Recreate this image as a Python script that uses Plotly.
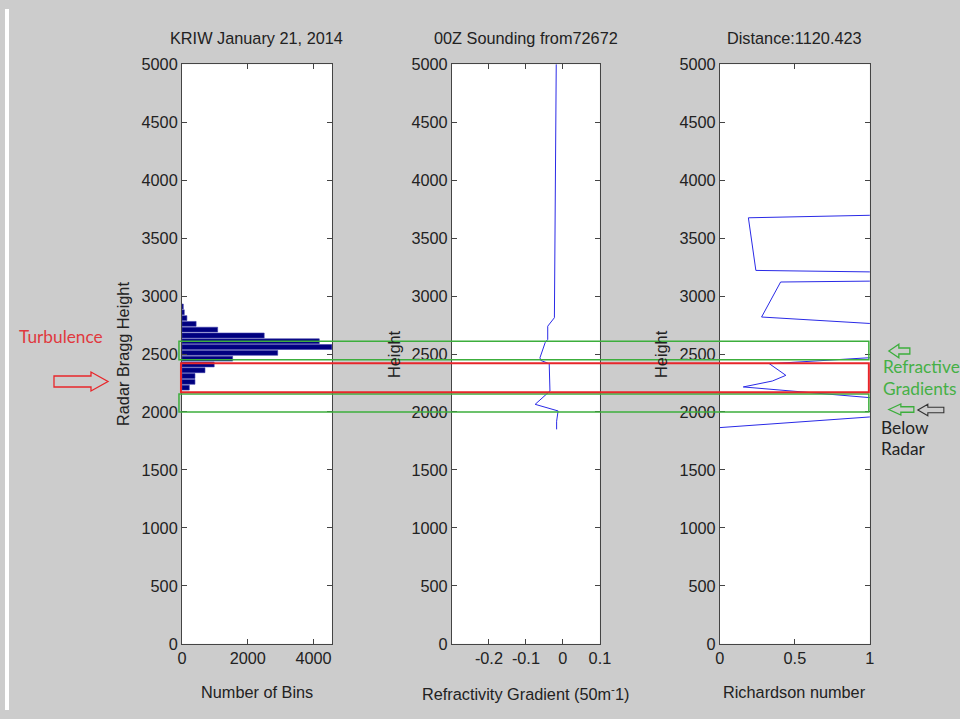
import plotly.graph_objects as go

W, H = 960, 719

# ---------------- data ----------------
hist_height = [2210, 2260, 2310, 2360, 2410, 2460, 2510, 2560, 2610, 2660, 2710, 2760, 2810, 2860, 2910]
hist_count = [222, 395, 395, 700, 980, 1540, 2910, 4560, 4175, 2500, 1085, 430, 150, 70, 40]

refr_height = [5000, 4000, 3000, 2813, 2740, 2626, 2598, 2468, 2445, 2416, 2181, 2147, 2066, 2009, 1920, 1850]
refr_grad = [-0.018, -0.020, -0.022, -0.023, -0.041, -0.041, -0.048, -0.062, -0.060, -0.037, -0.035, -0.046, -0.075, -0.013, -0.017, -0.017]

ri_height = [3710, 3675, 3221, 3200, 3135, 3121, 2819, 2725, 2507, 2416, 2316, 2267, 2216, 2069, 2003, 1847]
ri_value = [1.5, 0.19, 0.24, 1.5, 1.5, 0.405, 0.278, 1.5, 1.5, 0.33, 0.44, 0.35, 0.156, 1.5, 1.5, -0.2]

y_ticks = list(range(0, 5001, 500))
x1_ticks = [0, 2000, 4000]
x2_ticks = [-0.2, -0.1, 0, 0.1]
x2_labels = ["-0.2", "-0.1", "0", "0.1"]
x3_ticks = [0, 0.5, 1]
x3_labels = ["0", "0.5", "1"]

# highlighted height bands
green_band_top = (2450, 2610)
red_band = (2170, 2420)
green_band_bottom = (2000, 2155)

# the returned picture shows the page slightly inset and shrunk; compensate
OX, SX = 4.0, 0.9835
OY, SY = 7.8, 0.9755


def fx(t):
    return (t - OX) / SX


def fy(t):
    return (t - OY) / SY


def px(t):
    return fx(t) / W


def py(t):
    return 1 - fy(t) / H


FONT = "Liberation Sans, Arial, sans-serif"
TXT = "#222222"
AX = "#444444"
FS = 16.3

fig = go.Figure()
fig.add_trace(go.Bar(x=hist_count, y=hist_height, orientation="h",
                     marker=dict(color="#00007f", line=dict(color="#3a3aa8", width=0.6)),
                     xaxis="x", yaxis="y", showlegend=False))
fig.add_trace(go.Scatter(x=refr_grad, y=refr_height, mode="lines",
                         line=dict(color="#2a2ae6", width=1), xaxis="x2", yaxis="y2", showlegend=False))
fig.add_trace(go.Scatter(x=ri_value, y=ri_height, mode="lines",
                         line=dict(color="#2a2ae6", width=1), xaxis="x3", yaxis="y3", showlegend=False))

ydom = [py(643), py(63)]
common_ax = dict(showline=True, linecolor=AX, linewidth=1, mirror="ticks",
                 ticks="inside", ticklen=5, tickcolor=AX, showgrid=False,
                 zeroline=False, tickfont=dict(family=FONT, size=FS, color=TXT))
yax = dict(common_ax, range=[0, 5000], tickvals=y_ticks, domain=ydom)

fig.update_layout(
    width=W, height=H, autosize=False,
    margin=dict(l=0, r=0, t=0, b=0),
    paper_bgcolor="#cccccc", plot_bgcolor="white", bargap=0.16,
    xaxis=dict(common_ax, domain=[px(181), px(331)], range=[0, 4560], tickvals=x1_ticks, anchor="y"),
    yaxis=dict(yax, anchor="x"),
    xaxis2=dict(common_ax, domain=[px(451), px(599)], range=[-0.3, 0.1],
                tickvals=x2_ticks, ticktext=x2_labels, anchor="y2"),
    yaxis2=dict(yax, anchor="x2"),
    xaxis3=dict(common_ax, domain=[px(719), px(869)], range=[0, 1],
                tickvals=x3_ticks, ticktext=x3_labels, anchor="y3"),
    yaxis3=dict(yax, anchor="x3"),
)

GREEN = "#3cae3c"
RED = "#e8262a"
shapes = [
    # white strip along the left edge
    dict(type="rect", xref="paper", yref="paper", x0=0, x1=max(px(8), 0.002), y0=0, y1=1,
         fillcolor="white", line=dict(width=0), layer="below"),
    dict(type="rect", xref="paper", yref="y", x0=px(178), x1=px(868),
         y0=green_band_top[0], y1=green_band_top[1], line=dict(color=GREEN, width=1.5)),
    dict(type="rect", xref="paper", yref="y", x0=px(178), x1=px(868),
         y0=green_band_bottom[0], y1=green_band_bottom[1], line=dict(color=GREEN, width=1.5)),
    dict(type="rect", xref="paper", yref="y", x0=px(180), x1=px(868),
         y0=red_band[0], y1=red_band[1], line=dict(color=RED, width=2)),
]


def arrow_path(pts):
    return "M " + " L ".join(f"{px(x):.5f},{py(y):.5f}" for x, y in pts) + " Z"


red_arrow = [(53, 375), (90, 375), (90, 371), (107, 380.5), (90, 390), (90, 386), (53, 386)]
shapes.append(dict(type="path", xref="paper", yref="paper", path=arrow_path(red_arrow),
                   line=dict(color=RED, width=1.3)))


def left_arrow(tip_x, cy, base_x, end_x, head_h, shaft_h):
    return [(tip_x, cy), (base_x, cy - head_h / 2), (base_x, cy - shaft_h / 2), (end_x, cy - shaft_h / 2),
            (end_x, cy + shaft_h / 2), (base_x, cy + shaft_h / 2), (base_x, cy + head_h / 2)]


shapes.append(dict(type="path", xref="paper", yref="paper",
                   path=arrow_path(left_arrow(888, 350, 898, 909, 13.5, 6)),
                   line=dict(color=GREEN, width=1.3)))
shapes.append(dict(type="path", xref="paper", yref="paper",
                   path=arrow_path(left_arrow(888, 408.5, 900, 913, 11, 5.5)),
                   line=dict(color=GREEN, width=1.3)))
shapes.append(dict(type="path", xref="paper", yref="paper",
                   path=arrow_path(left_arrow(917, 409, 927, 943, 11.5, 5.5)),
                   line=dict(color="#333333", width=1.1)))
fig.update_layout(shapes=shapes)

ann = []


def text(x, y, s, size=FS, color=TXT, angle=0, xanchor="center", family=FONT):
    ann.append(dict(x=px(x), y=py(y), xref="paper", yref="paper", text=s, showarrow=False,
                    xanchor=xanchor, yanchor="middle", textangle=angle,
                    font=dict(family=family, size=size, color=color)))


text(256, 37, "KRIW January 21, 2014")
text(525, 37, "00Z Sounding from72672")
text(794, 37, "Distance:1120.423")
text(256, 691, "Number of Bins")
text(525, 692, "Refractivity Gradient (50m<sup>-</sup>1)")
text(794, 691, "Richardson number")
text(122, 353, "Radar Bragg Height", angle=-90)
text(393, 353, "Height", angle=-90)
text(660, 353, "Height", angle=-90)

CAL = "Lato, Carlito, sans-serif"
NS = 17.3
text(16, 335, "Turbulence", size=NS, color="#e0393e", xanchor="left", family=CAL)
text(880, 365, "Refractive", size=NS, color="#45b045", xanchor="left", family=CAL)
text(880, 388, "Gradients", size=NS, color="#45b045", xanchor="left", family=CAL)
text(878, 427, "Below", size=NS, color="#222222", xanchor="left", family=CAL)
text(878, 448, "Radar", size=NS, color="#222222", xanchor="left", family=CAL)
fig.update_layout(annotations=ann)

fig.write_html(
    "out.html",
    config={"displayModeBar": False},
    post_script=(
        "document.body.style.margin='0px';"
        "document.documentElement.style.overflow='hidden';"
        "document.body.style.overflow='hidden';"
    ),
)
